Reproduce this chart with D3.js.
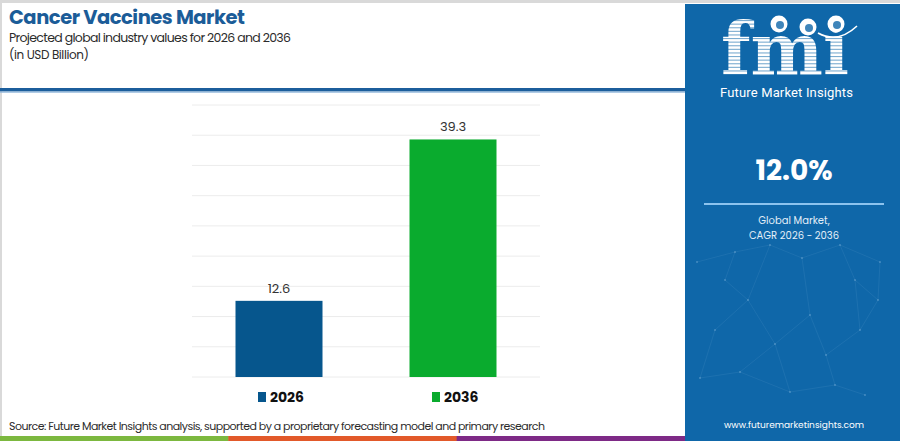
<!DOCTYPE html>
<html lang="en">
<head>
<meta charset="UTF-8">
<script src="https://d3js.org/d3.v7.min.js"></script>
<title>Cancer Vaccines Market</title>
<style>
  html, body { margin: 0; padding: 0; background: #fff; }
  svg { display: block; }
</style>
</head>
<body>
<div id="container"></div>
<script>
// chart data
const years = ['2026', '2036'];
const values = [12.6, 39.3];
const barColors = ['#06568d', '#0aab2e'];
const yTicks = [0, 5, 10, 15, 20, 25, 30, 35, 40, 45];
const cagrText = '12.0%';
const footerColors = ['#7cb83f', '#e2592a', '#7e2a86'];

const width = 900;
const height = 441;
const font = 'Poppins, Inter, "Open Sans", sans-serif';

const svg = d3.select('#container')
    .append('svg')
    .attr('width', width)
    .attr('height', height)
    .attr('viewBox', [0, 0, width, height]);

// frame
svg.append('rect').attr('x', 0).attr('y', 0).attr('width', width).attr('height', height).attr('fill', '#fff');
svg.append('rect').attr('x', 0).attr('y', 0).attr('width', width).attr('height', 3).attr('fill', '#d9d9d9');
svg.append('rect').attr('x', 0).attr('y', 0).attr('width', 2).attr('height', height).attr('fill', '#d9d9d9');

// title block
svg.append('text')
    .attr('x', 9).attr('y', 24)
    .style('font-family', font).style('font-weight', 700).style('font-size', '19.5px')
    .attr('fill', '#1b5c98')
    .attr('textLength', 236)
    .text('Cancer Vaccines Market');
svg.append('text')
    .attr('x', 9).attr('y', 42)
    .style('font-family', font).style('font-size', '12.5px')
    .attr('fill', '#2b2b2b')
    .attr('textLength', 282)
    .text('Projected global industry values for 2026 and 2036');
svg.append('text')
    .attr('x', 9).attr('y', 59)
    .style('font-family', font).style('font-size', '12px')
    .attr('fill', '#2b2b2b')
    .attr('textLength', 80)
    .text('(in USD Billion)');

svg.append('rect').attr('x', 0).attr('y', 88).attr('width', 685).attr('height', 3.5).attr('fill', '#1c5e9c');
svg.append('rect').attr('x', 0).attr('y', 91.5).attr('width', 685).attr('height', 1.2).attr('fill', '#8fb6da');

// scales
const x = d3.scaleBand().domain(years).range([192, 540]).paddingInner(0.5).paddingOuter(0.25);
const y = d3.scaleLinear().domain([0, 45]).range([377, 105]);

// grid
svg.append('g')
    .selectAll('line')
    .data(yTicks)
    .join('line')
    .attr('x1', 192).attr('x2', 540)
    .attr('y1', d => y(d)).attr('y2', d => y(d))
    .attr('stroke', '#ececec').attr('stroke-width', 1);

// bars
svg.append('g')
    .selectAll('rect')
    .data(values)
    .join('rect')
    .attr('x', (d, i) => x(years[i]))
    .attr('y', d => y(d))
    .attr('width', x.bandwidth())
    .attr('height', d => y(0) - y(d))
    .attr('fill', (d, i) => barColors[i]);

svg.append('g')
    .selectAll('text')
    .data(values)
    .join('text')
    .attr('x', (d, i) => x(years[i]) + x.bandwidth() / 2)
    .attr('y', d => y(d) - 8)
    .attr('text-anchor', 'middle')
    .style('font-family', font).style('font-size', '13px')
    .attr('fill', '#333')
    .text(d => d.toFixed(1));

// legend
const legend = svg.append('g')
    .selectAll('g')
    .data(years)
    .join('g')
    .attr('transform', (d, i) => `translate(${x(d) + x.bandwidth() / 2 - 21},397)`);
legend.append('rect')
    .attr('x', 0).attr('y', -5).attr('width', 8).attr('height', 10)
    .attr('fill', (d, i) => barColors[i]);
legend.append('text')
    .attr('x', 12).attr('y', 5)
    .style('font-family', font).style('font-weight', 700).style('font-size', '14px')
    .attr('fill', '#111')
    .text(d => d);

// source
svg.append('text')
    .attr('x', 9).attr('y', 430)
    .style('font-family', font).style('font-size', '11px')
    .attr('fill', '#2b2b2b')
    .attr('textLength', 536)
    .text('Source: Future Market Insights analysis, supported by a proprietary forecasting model and primary research');

// footer bar
const fx = d3.scaleBand().domain(d3.range(footerColors.length)).range([0, 685]);
svg.append('g')
    .selectAll('rect')
    .data(footerColors)
    .join('rect')
    .attr('x', (d, i) => fx(i)).attr('y', 436)
    .attr('width', fx.bandwidth() + 0.5).attr('height', 5)
    .attr('fill', d => d);

// right panel
const panel = svg.append('g');
panel.append('rect').attr('x', 685).attr('y', 4).attr('width', 215).attr('height', 437).attr('fill', '#0f67a9');

// faint network pattern
const net = [[697,262],[735,252],[770,245],[802,258],[840,245],[880,262],[715,330],[748,300],[775,344],[810,315],[826,355],[860,330],[878,300],[700,378],[740,372],[790,392],[835,385],[865,395],[725,280],[855,280]];
const netLinks = [[0,1],[1,2],[2,3],[3,4],[4,5],[1,18],[18,7],[7,6],[6,13],[13,14],[14,8],[8,7],[8,9],[9,3],[9,10],[10,11],[11,12],[12,5],[11,19],[19,4],[10,16],[16,17],[15,8],[15,16],[14,15],[7,2],[12,19]];
panel.append('g')
    .selectAll('line')
    .data(netLinks)
    .join('line')
    .attr('x1', d => net[d[0]][0]).attr('y1', d => net[d[0]][1])
    .attr('x2', d => net[d[1]][0]).attr('y2', d => net[d[1]][1])
    .attr('stroke', '#7fb3dc').attr('stroke-opacity', 0.22).attr('stroke-width', 0.6);
panel.append('g')
    .selectAll('circle')
    .data(net)
    .join('circle')
    .attr('cx', d => d[0]).attr('cy', d => d[1]).attr('r', 1.1)
    .attr('fill', '#9cc6e8').attr('fill-opacity', 0.35);

// logo
const defs = svg.append('defs');
defs.append('clipPath').attr('id', 'logoClip')
    .append('text')
    .attr('x', 721).attr('y', 75)
    .style('font-family', '"DejaVu Serif", serif').style('font-weight', 700).style('font-size', '72px')
    .attr('textLength', 128).attr('lengthAdjust', 'spacingAndGlyphs')
    .text('fmi');
const logo = panel.append('g').attr('clip-path', 'url(#logoClip)');
logo.append('rect').attr('x', 715).attr('y', 15).attr('width', 145).attr('height', 65).attr('fill', '#fff');
logo.append('g')
    .selectAll('rect')
    .data(d3.range(0, 16))
    .join('rect')
    .attr('x', 715).attr('y', d => 20 + d * 3.6)
    .attr('width', 145).attr('height', 1.1)
    .attr('fill', '#0f67a9').attr('fill-opacity', 0.55);

// globes and arc
const globes = [[779, 24], [808, 27], [836, 24]];
panel.append('g')
    .selectAll('circle')
    .data(globes)
    .join('circle')
    .attr('cx', d => d[0]).attr('cy', d => d[1]).attr('r', 8.5)
    .attr('fill', '#fff');
panel.append('g')
    .selectAll('circle')
    .data(globes)
    .join('circle')
    .attr('cx', d => d[0] + 1).attr('cy', d => d[1] + 1).attr('r', 4)
    .attr('fill', '#0f67a9').attr('fill-opacity', 0.8);
panel.append('path')
    .attr('d', 'M818,33 Q838,44 857,26')
    .attr('fill', 'none').attr('stroke', '#fff').attr('stroke-width', 1.6);

panel.append('text')
    .attr('x', 720).attr('y', 97)
    .style('font-family', '"Liberation Sans Narrow", "Roboto", sans-serif').style('font-size', '13px')
    .attr('fill', '#fff')
    .attr('textLength', 133)
    .text('Future Market Insights');

// CAGR
panel.append('text')
    .attr('x', 794).attr('y', 180)
    .attr('text-anchor', 'middle')
    .style('font-family', font).style('font-weight', 700).style('font-size', '28px')
    .attr('fill', '#fff')
    .text(cagrText);
panel.append('rect').attr('x', 704).attr('y', 203).attr('width', 180).attr('height', 2).attr('fill', '#8cc3ee');
panel.append('text')
    .attr('x', 794).attr('y', 224)
    .attr('text-anchor', 'middle')
    .style('font-family', font).style('font-size', '10px')
    .attr('fill', '#e3eef8')
    .text('Global Market,');
panel.append('text')
    .attr('x', 794).attr('y', 239)
    .attr('text-anchor', 'middle')
    .style('font-family', font).style('font-size', '10px')
    .attr('fill', '#e3eef8')
    .text('CAGR 2026 - 2036');

panel.append('text')
    .attr('x', 794).attr('y', 428)
    .attr('text-anchor', 'middle')
    .style('font-family', font).style('font-size', '9px')
    .attr('fill', '#fff')
    .text('www.futuremarketinsights.com');
</script>
</body>
</html>
